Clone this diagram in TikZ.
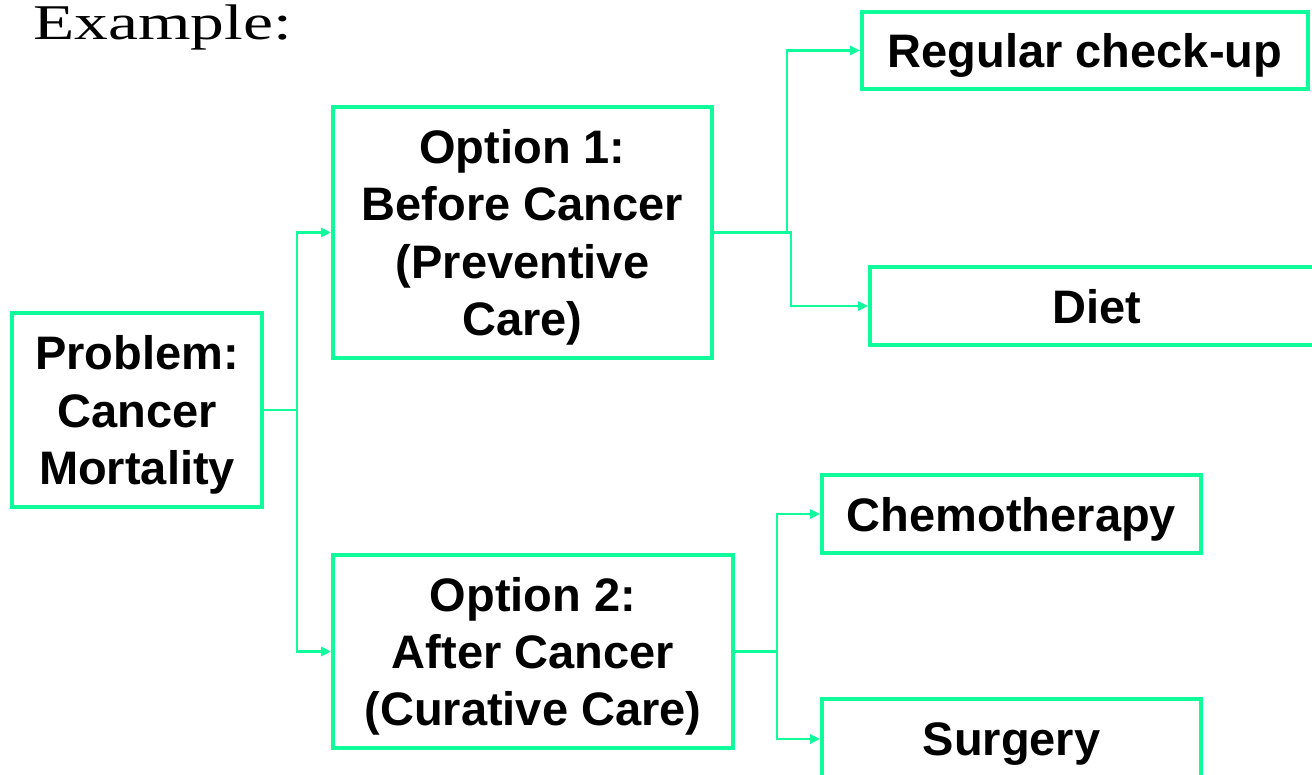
\documentclass[tikz,border=0pt]{standalone}
\usepackage{fontspec}
\usetikzlibrary{arrows.meta}
\newfontfamily\boxfont{Liberation Sans}
\newfontfamily\titlefont{Liberation Serif}
\definecolor{spring}{RGB}{15,252,155}
\tikzset{
  box/.style={draw=spring, line width=4pt, rectangle, inner sep=0pt, align=center,
    text depth=0pt,
    font=\boxfont\bfseries\fontsize{47}{57.3}\selectfont, text=black},
  conn/.style={draw=spring, line width=2.5pt, -{Triangle[length=10pt,width=9pt]}},
}
\begin{document}
\begin{tikzpicture}[x=1pt,y=-1pt]
\useasboundingbox (0,0) rectangle (1312,775);
\node[anchor=base west, inner sep=0pt, font=\titlefont\fontsize{50}{54}\selectfont] (title) at (33,40) {\scalebox{1.35}[1]{Example:}};
\node[box, minimum width=250pt, minimum height=194pt] (prob) at (137,410) {Problem:\\Cancer\\Mortality};
\node[box, minimum width=379pt, minimum height=251pt] (opt1) at (522.5,232.5) {Option 1:\\Before Cancer\\(Preventive\\Care)};
\node[box, minimum width=400pt, minimum height=193pt] (opt2) at (533,651.5) {Option 2:\\After Cancer\\(Curative Care)};
\node[box, minimum width=446pt, minimum height=77pt] (reg) at (1085,50.5) {Regular check-up};
\node[box, minimum width=454pt, minimum height=78pt] (diet) at (1097,306) {Diet};
\node[box, minimum width=379pt, minimum height=78pt] (chemo) at (1011.5,514) {Chemotherapy};
\node[box, minimum width=379pt, minimum height=80pt] (surg) at (1011.5,739) {Surgery};
\coordinate (j1) at (297,0);
\coordinate (j2) at (787,0);
\coordinate (j3) at (791,0);
\coordinate (j4) at (777,0);
\draw[conn] (prob.east) -- (j1 |- prob.east) |- (opt1.west);
\draw[conn] (prob.east) -- (j1 |- prob.east) |- (opt2.west);
\draw[conn] (opt1.east) -- (j2 |- opt1.east) |- (reg.west);
\draw[conn] (opt1.east) -- (j3 |- opt1.east) |- (diet.west);
\draw[conn] (opt2.east) -- (j4 |- opt2.east) |- (chemo.west);
\draw[conn] (opt2.east) -- (j4 |- opt2.east) |- (surg.west);
\end{tikzpicture}
\end{document}
